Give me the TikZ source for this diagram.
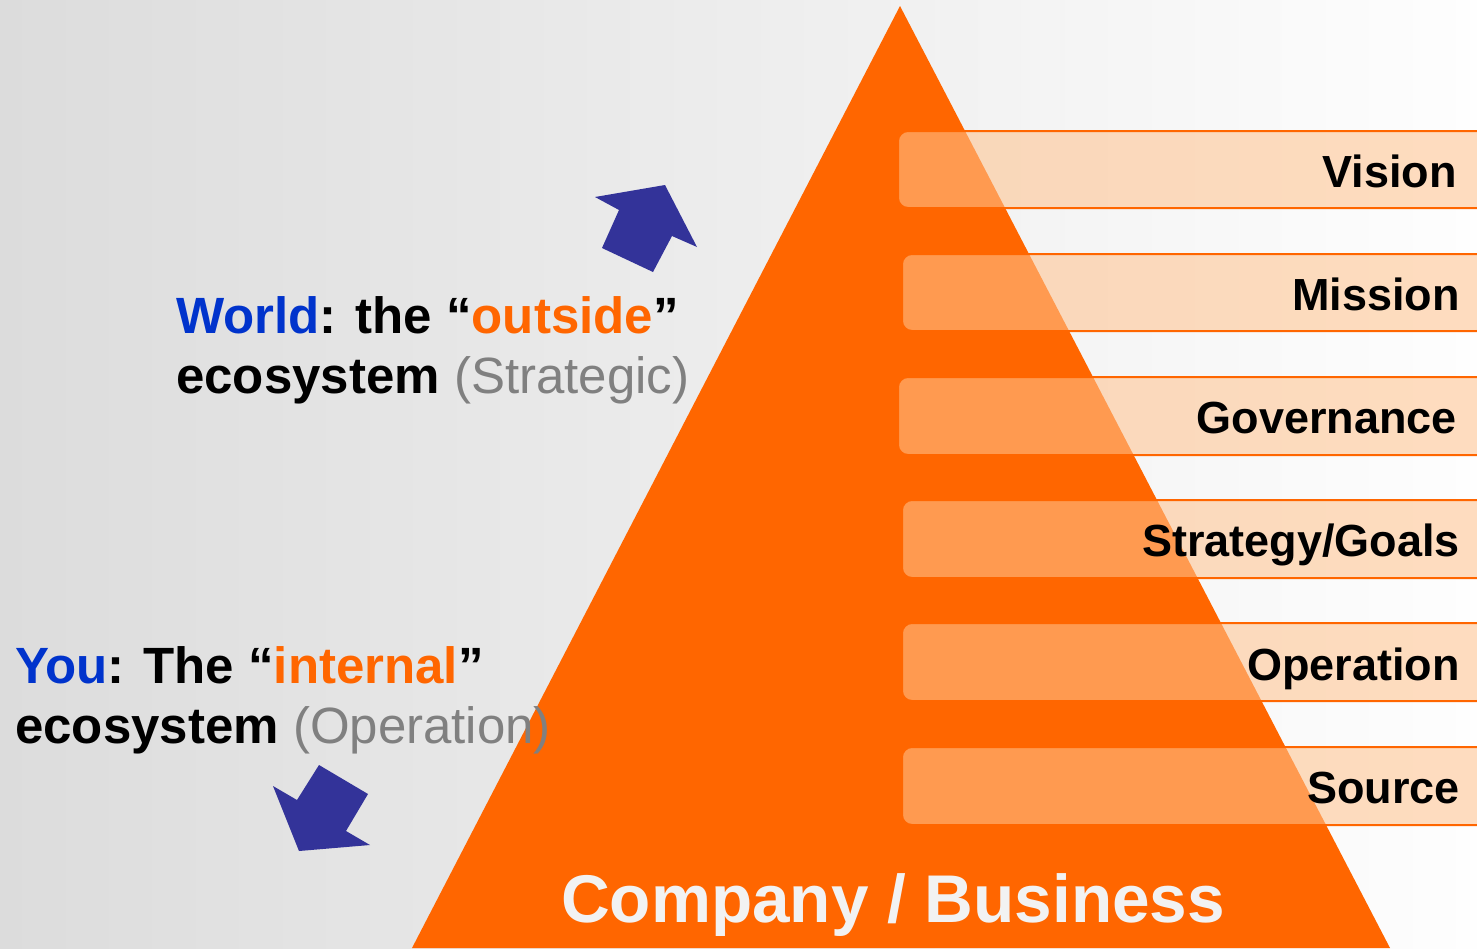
\documentclass[tikz,border=0pt]{standalone}
\usepackage{fontspec}
\setmainfont{Liberation Sans}
\definecolor{pyorange}{RGB}{255,102,0}
\definecolor{barfill}{RGB}{255,195,143}
\definecolor{arrowblue}{RGB}{51,51,153}
\definecolor{wblue}{RGB}{0,51,204}
\definecolor{paren}{RGB}{128,128,128}
\definecolor{cwhite}{RGB}{242,242,242}
\definecolor{bgleft}{RGB}{220,220,220}
\definecolor{bgmid}{RGB}{244,244,244}
\definecolor{bgright}{RGB}{254,254,254}
\begin{document}
\begin{tikzpicture}[x=1pt,y=-1pt,
  levelbar/.style={draw=pyorange,line width=2pt,fill=barfill,fill opacity=0.56,rounded corners=10pt},
  levellabel/.style={anchor=base east,inner sep=0pt,font=\fontsize{45}{54}\selectfont\bfseries,text=black},
  sidetext/.style={anchor=north west,inner sep=0pt,align=left,font=\fontsize{51}{60}\selectfont\bfseries},
  bluearrow/.style={fill=arrowblue,draw=none}]
\useasboundingbox (0,0) rectangle (1477,948);
\clip (0,0) rectangle (1477,948);
% background
\shade[left color=bgleft,middle color=bgmid,right color=bgright] (0,0) rectangle (1477,948);
% pyramid
\fill[pyorange] (900,6) -- (412,948) -- (1390,948) -- cycle;
% bars
\draw[levelbar] (898,131) rectangle (1487,208);
\draw[levelbar] (902,254) rectangle (1487,331);
\draw[levelbar] (898,377) rectangle (1487,455);
\draw[levelbar] (902,500) rectangle (1487,578);
\draw[levelbar] (902,623) rectangle (1487,701);
\draw[levelbar] (902,747) rectangle (1487,825);
\node[levellabel] (vision) at (1457,187) {Vision};
\node[levellabel] (mission) at (1460,310) {Mission};
\node[levellabel] (governance) at (1457,433) {Governance};
\node[levellabel] (strategy) at (1460,556) {Strategy/Goals};
\node[levellabel] (operation) at (1460,680) {Operation};
\node[levellabel] (source) at (1460,803) {Source};
% company label
\node[anchor=base,inner sep=0pt,font=\fontsize{67.5}{80}\selectfont\bfseries,text=cwhite] (company) at (893,922) {Company / Business};
% side texts
\node[sidetext] (world) at (176,296) {\textcolor{wblue}{World}: the “\textcolor{pyorange}{outside}”\\ecosystem \textcolor{paren}{\mdseries(Strategic)}};
\node[sidetext] (you) at (15,646) {\textcolor{wblue}{You}: The “\textcolor{pyorange}{internal}”\\ecosystem \textcolor{paren}{\mdseries(Operation)}};
% arrows
\fill[bluearrow] (602,248) -- (619,210) -- (595,197) -- (665,185) -- (697,247) -- (672,236) -- (653,272) -- cycle;
\fill[bluearrow] (319,765) -- (368,794) -- (346,831) -- (370,845) -- (299,851) -- (273,786) -- (297,800) -- cycle;
\end{tikzpicture}
\end{document}
